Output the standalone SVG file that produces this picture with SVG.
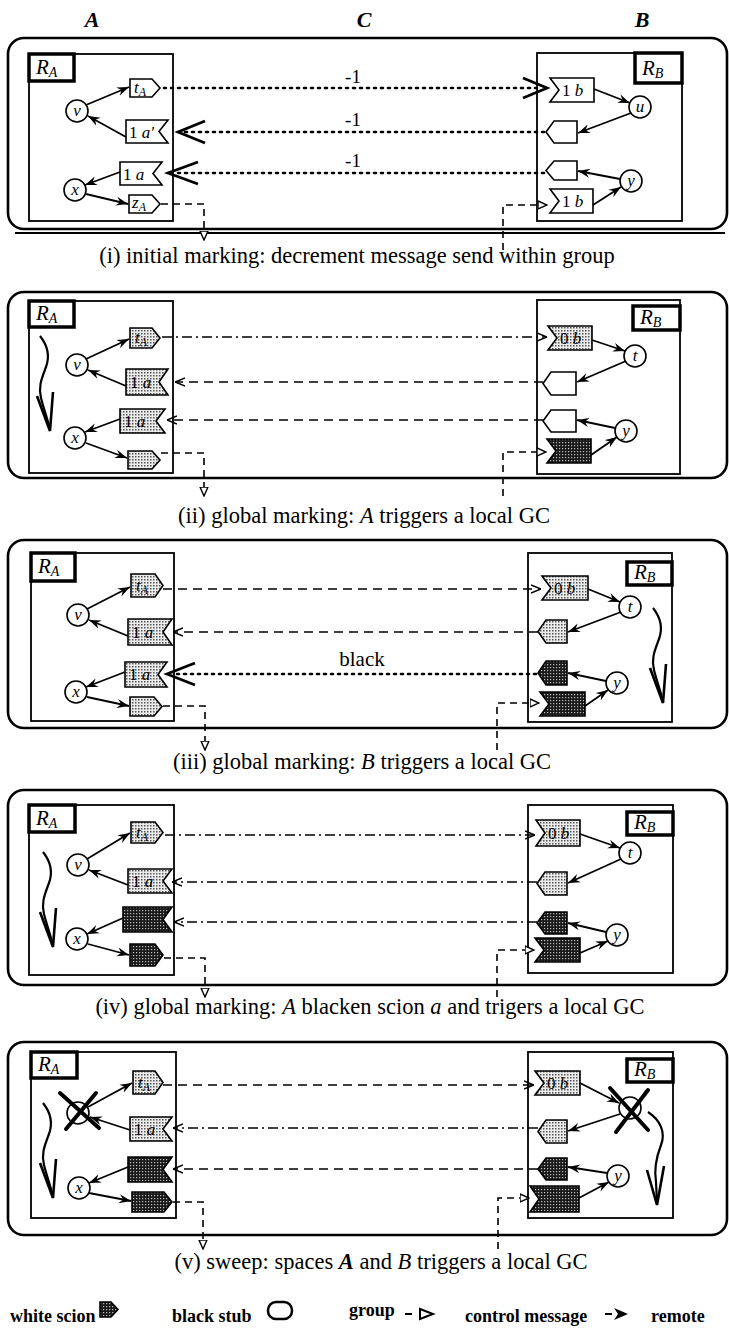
<svg xmlns="http://www.w3.org/2000/svg" width="729" height="1331" viewBox="0 0 729 1331">
<style>
.grp{fill:none;stroke:#000;stroke-width:2.6}
.box{fill:none;stroke:#000;stroke-width:1.8}
.lbl{fill:#fff;stroke:#000;stroke-width:3.5}
.nd{stroke:#000;stroke-width:1.6}
.w{fill:#fff}.l{fill:url(#lt)}.d{fill:url(#dk)}
.ref{stroke:#000;stroke-width:1.8;fill:none;marker-end:url(#ah)}
.row{stroke:#000;fill:none;stroke-width:1.6}
.dot{stroke-dasharray:2 5;stroke-width:2.6;stroke-linecap:round}
.dash{stroke-dasharray:9 6}
.dd{stroke-dasharray:10 4 2 4}
.sa{marker-end:url(#sa)}
.chev{fill:none;stroke:#000;stroke-width:2.8}
.ctl{fill:none;stroke:#000;stroke-width:1.6;stroke-dasharray:7 5;marker-end:url(#ca)}
.xx{stroke:#000;stroke-width:4;stroke-linecap:round}
text{font-family:"Liberation Serif",serif;fill:#000}
.nt{font-size:17px;font-style:italic}
.nt tspan.s{font-size:12px}
.ct{font-size:17px;font-style:italic;text-anchor:middle}
.rl{font-size:21px;font-style:italic}
.rl tspan{font-size:14px}
.cap{font-size:22.5px;text-anchor:middle}
.hd{font-size:22px;font-weight:bold;font-style:italic;text-anchor:middle}
.m1{font-size:19px;text-anchor:middle}
.lg{font-size:18px;font-weight:bold}
</style>
<defs>
<pattern id="lt" width="3" height="3" patternUnits="userSpaceOnUse"><rect width="3" height="3" fill="#ececec"/><rect width="1.5" height="1.5" fill="#555"/></pattern>
<pattern id="dk" width="3" height="3" patternUnits="userSpaceOnUse"><rect width="3" height="3" fill="#1a1a1a"/><rect x="1" y="1" width="1.2" height="1.2" fill="#bbb"/></pattern>
<marker id="ah" viewBox="0 0 12 10" refX="12" refY="5" markerWidth="12" markerHeight="10" markerUnits="userSpaceOnUse" orient="auto"><path d="M0,0.5 L12,5 L0,9.5 L4,5 z" fill="#000"/></marker>
<marker id="sa" viewBox="0 0 10 10" refX="10" refY="5" markerWidth="10" markerHeight="10" markerUnits="userSpaceOnUse" orient="auto"><path d="M0,1 L10,5 L0,9" fill="none" stroke="#000" stroke-width="1.5"/></marker>
<marker id="ca" viewBox="0 0 10 10" refX="9" refY="5" markerWidth="10" markerHeight="10" markerUnits="userSpaceOnUse" orient="auto"><path d="M0,1 L9,5 L0,9 z" fill="#fff" stroke="#000" stroke-width="1.4"/></marker>
<g id="sq"><path d="M0,0 C8,10 10,20 6,31 C2,42 -2,50 1,62 C4,74 8,84 10,94" fill="none" stroke="#000" stroke-width="2.2"/><path d="M-3,60 L10,95 L13,56" fill="none" stroke="#000" stroke-width="2.6"/></g>
</defs>

<g id="header">
<text class="hd" x="92" y="27">A</text>
<text class="hd" x="364" y="27">C</text>
<text class="hd" x="642" y="27">B</text>
</g>

<!-- Panel i -->
<g id="panel-i">
<rect class="grp" x="8" y="38" width="719" height="191" rx="16"/>
<line x1="15" y1="233" x2="725" y2="233" stroke="#000" stroke-width="2.2"/>
<g id="i-RA"><rect class="box" x="29" y="54" width="144" height="167"/><rect class="lbl" x="29" y="54" width="45" height="27"/><text class="rl" x="36" y="74">R<tspan dy="3">A</tspan></text></g>
<g id="i-v"><circle class="nd w" cx="77" cy="111" r="11"/><text class="ct" x="77" y="116">v</text></g>
<g id="i-x"><circle class="nd w" cx="75" cy="190" r="11"/><text class="ct" x="75" y="195">x</text></g>
<g id="i-tA"><polygon class="nd w" points="130,79 152,79 160,88 152,97 130,97"/><text class="nt" x="134" y="93">t<tspan class="s" dy="3">A</tspan></text></g>
<g id="i-a1"><polygon class="nd w" points="126,120 168,120 159,131.5 168,143 126,143"/><text class="nt" x="129" y="138"><tspan font-style="normal">1</tspan> a'</text></g>
<g id="i-a2"><polygon class="nd w" points="120,162 162,162 153,173.5 162,185 120,185"/><text class="nt" x="123" y="180"><tspan font-style="normal">1</tspan> a</text></g>
<g id="i-zA"><polygon class="nd w" points="129,195 152,195 160,204 152,213 129,213"/><text class="nt" x="132" y="208">z<tspan class="s" dy="3">A</tspan></text></g>
<g id="i-RB"><rect class="box" x="537" y="53" width="145" height="168"/><rect class="lbl" x="635" y="53" width="47" height="30"/><text class="rl" x="642" y="75">R<tspan dy="3">B</tspan></text></g>
<g id="i-b1"><polygon class="nd w" points="550,78 594,78 594,102 550,102 559,90"/><text class="nt" x="562" y="96"><tspan font-style="normal">1</tspan> b</text></g>
<g id="i-u"><circle class="nd w" cx="640" cy="107" r="11"/><text class="ct" x="640" y="112">u</text></g>
<g id="i-s1"><polygon class="nd w" points="554,121 577,121 577,143 554,143 546,132"/></g>
<g id="i-s2"><polygon class="nd w" points="554,161 577,161 577,180 554,180 546,170.5"/></g>
<g id="i-y"><circle class="nd w" cx="631" cy="181" r="11"/><text class="ct" x="631" y="186">y</text></g>
<g id="i-b2"><polygon class="nd w" points="550,189 593,189 593,213 550,213 559,201"/><text class="nt" x="562" y="207"><tspan font-style="normal">1</tspan> b</text></g>
<g id="i-connectors">
<line class="ref" x1="86" y1="105" x2="129" y2="87"/>
<line class="ref" x1="126" y1="137" x2="88" y2="116"/>
<line class="ref" x1="120" y1="172" x2="85" y2="185"/>
<line class="ref" x1="86" y1="194" x2="128" y2="204"/>
<line class="ref" x1="594" y1="89" x2="630" y2="103"/>
<line class="ref" x1="631" y1="113" x2="578" y2="133"/>
<line class="ref" x1="620" y1="179" x2="578" y2="171"/>
<line class="ref" x1="593" y1="205" x2="621" y2="187"/>
<line class="row dot" x1="164" y1="88" x2="540" y2="88"/>
<path class="chev" d="M523,78 L547,88 L523,98"/>
<line class="row dot" x1="544" y1="132" x2="182" y2="132"/>
<path class="chev" d="M205,121 L178,132 L205,143"/>
<line class="row dot" x1="544" y1="173" x2="174" y2="173"/>
<path class="chev" d="M198,162 L168,173 L198,184"/>
<text class="m1" x="353" y="83">-1</text>
<text class="m1" x="353" y="126">-1</text>
<text class="m1" x="353" y="167">-1</text>
<polyline class="ctl" points="161,204 204,204 204,240"/>
<polyline class="ctl" points="503,250 503,205 547,205"/>
</g>
</g>
<text class="cap" x="357" y="263">(i) initial marking: decrement message send within group</text>

<!-- Panel ii -->
<g id="panel-ii">
<rect class="grp" x="8" y="292" width="719" height="186" rx="16"/>
<g id="ii-RA"><rect class="box" x="29" y="301" width="144" height="172"/><rect class="lbl" x="29" y="301" width="45" height="26"/><text class="rl" x="36" y="320">R<tspan dy="3">A</tspan></text><use href="#sq" x="40" y="336"/></g>
<g id="ii-v"><circle class="nd w" cx="77" cy="365" r="11"/><text class="ct" x="77" y="370">v</text></g>
<g id="ii-x"><circle class="nd w" cx="75" cy="438" r="11"/><text class="ct" x="75" y="443">x</text></g>
<g id="ii-tA"><polygon class="nd l" points="130,328 152,328 160,338 152,348 130,348"/><text class="nt" x="135" y="343">t<tspan class="s" dy="3">A</tspan></text></g>
<g id="ii-a1"><polygon class="nd l" points="126,369 168,369 159,382 168,395 126,395"/><text class="nt" x="130" y="388"><tspan font-style="normal">1</tspan> a</text></g>
<g id="ii-a2"><polygon class="nd l" points="120,409 165,409 156,421 165,433 120,433"/><text class="nt" x="124" y="427"><tspan font-style="normal">1</tspan> a</text></g>
<g id="ii-st"><polygon class="nd l" points="128,451 152,451 160,460 152,469 128,469"/></g>
<g id="ii-RB"><rect class="box" x="537" y="300" width="143" height="174"/><rect class="lbl" x="633" y="306" width="47" height="24"/><text class="rl" x="640" y="324">R<tspan dy="3">B</tspan></text></g>
<g id="ii-b1"><polygon class="nd l" points="548,326 592,326 592,350 548,350 557,338"/><text class="nt" x="560" y="344"><tspan font-style="normal">0</tspan> b</text></g>
<g id="ii-t"><circle class="nd w" cx="635" cy="356" r="11"/><text class="ct" x="635" y="361">t</text></g>
<g id="ii-s1"><polygon class="nd w" points="551,372 576,372 576,395 551,395 543,383.5"/></g>
<g id="ii-s2"><polygon class="nd w" points="551,410 576,410 576,432 551,432 543,421"/></g>
<g id="ii-y"><circle class="nd w" cx="626" cy="431" r="11"/><text class="ct" x="626" y="436">y</text></g>
<g id="ii-b2"><polygon class="nd d" points="547,439 591,439 591,463 547,463 556,451"/></g>
<g id="ii-connectors">
<line class="ref" x1="86" y1="359" x2="129" y2="339"/>
<line class="ref" x1="126" y1="386" x2="88" y2="370"/>
<line class="ref" x1="120" y1="419" x2="85" y2="432"/>
<line class="ref" x1="86" y1="443" x2="127" y2="458"/>
<line class="ref" x1="592" y1="340" x2="625" y2="351"/>
<line class="ref" x1="626" y1="361" x2="577" y2="382"/>
<line class="ref" x1="615" y1="428" x2="577" y2="420"/>
<line class="ref" x1="591" y1="455" x2="617" y2="437"/>
<line class="row dd sa" x1="162" y1="337" x2="547" y2="337"/>
<line class="row dash sa" x1="543" y1="382" x2="175" y2="382"/>
<line class="row dash sa" x1="543" y1="420" x2="167" y2="420"/>
<polyline class="ctl" points="161,453 204,453 204,496"/>
<polyline class="ctl" points="503,496 503,452 546,452"/>
</g>
</g>
<text class="cap" x="364" y="523">(ii) global marking: <tspan font-style="italic">A</tspan> triggers a local GC</text>

<!-- Panel iii -->
<g id="panel-iii">
<rect class="grp" x="8" y="540" width="719" height="188" rx="16"/>
<g id="iii-RA"><rect class="box" x="31" y="553" width="143" height="168"/><rect class="lbl" x="31" y="553" width="44" height="28"/><text class="rl" x="38" y="573">R<tspan dy="3">A</tspan></text></g>
<g id="iii-v"><circle class="nd w" cx="78" cy="615" r="11"/><text class="ct" x="78" y="620">v</text></g>
<g id="iii-x"><circle class="nd w" cx="76" cy="692" r="11"/><text class="ct" x="76" y="697">x</text></g>
<g id="iii-tA"><polygon class="nd l" points="131,574 155,574 163,585.5 155,597 131,597"/><text class="nt" x="136" y="591">t<tspan class="s" dy="3">A</tspan></text></g>
<g id="iii-a1"><polygon class="nd l" points="128,619 172,619 163,632 172,645 128,645"/><text class="nt" x="132" y="638"><tspan font-style="normal">1</tspan> a</text></g>
<g id="iii-a2"><polygon class="nd l" points="125,662 167,662 158,674.5 167,687 125,687"/><text class="nt" x="129" y="680"><tspan font-style="normal">1</tspan> a</text></g>
<g id="iii-st"><polygon class="nd l" points="130,697 154,697 162,706.5 154,716 130,716"/></g>
<g id="iii-RB"><rect class="box" x="528" y="553" width="144" height="169"/><rect class="lbl" x="627" y="562" width="45" height="23"/><text class="rl" x="634" y="579">R<tspan dy="3">B</tspan></text><use href="#sq" x="653" y="608"/></g>
<g id="iii-b1"><polygon class="nd l" points="542,576 588,576 588,600 542,600 551,588"/><text class="nt" x="554" y="594"><tspan font-style="normal">0</tspan> b</text></g>
<g id="iii-t"><circle class="nd w" cx="630" cy="607" r="11"/><text class="ct" x="630" y="612">t</text></g>
<g id="iii-s1"><polygon class="nd l" points="546,620 567,620 567,643 546,643 538,631.5"/></g>
<g id="iii-s2"><polygon class="nd d" points="546,661 567,661 567,685 546,685 538,673"/></g>
<g id="iii-y"><circle class="nd w" cx="617" cy="683" r="11"/><text class="ct" x="617" y="688">y</text></g>
<g id="iii-b2"><polygon class="nd d" points="540,692 585,692 585,716 540,716 549,704"/></g>
<g id="iii-connectors">
<line class="ref" x1="87" y1="609" x2="130" y2="587"/>
<line class="ref" x1="128" y1="636" x2="89" y2="620"/>
<line class="ref" x1="125" y1="672" x2="86" y2="687"/>
<line class="ref" x1="87" y1="697" x2="129" y2="706"/>
<line class="ref" x1="588" y1="589" x2="620" y2="602"/>
<line class="ref" x1="621" y1="612" x2="568" y2="632"/>
<line class="ref" x1="606" y1="681" x2="568" y2="673"/>
<line class="ref" x1="585" y1="706" x2="608" y2="690"/>
<line class="row dash sa" x1="163" y1="589" x2="541" y2="589"/>
<line class="row dash sa" x1="538" y1="632" x2="173" y2="632"/>
<line class="row dot" x1="536" y1="674" x2="174" y2="674"/>
<path class="chev" d="M195,663 L167,674 L195,685"/>
<text x="362" y="666" font-family="Liberation Sans, sans-serif" font-size="21" text-anchor="middle">black</text>
<polyline class="ctl" points="163,706 205,706 205,750"/>
<polyline class="ctl" points="497,750 497,703 539,703"/>
</g>
</g>
<text class="cap" x="362" y="769">(iii) global marking: <tspan font-style="italic">B</tspan> triggers a local GC</text>

<!-- Panel iv -->
<g id="panel-iv">
<rect class="grp" x="8" y="790" width="719" height="195" rx="16"/>
<g id="iv-RA"><rect class="box" x="29" y="805" width="145" height="170"/><rect class="lbl" x="29" y="805" width="46" height="27"/><text class="rl" x="36" y="825">R<tspan dy="3">A</tspan></text><use href="#sq" x="43" y="852"/></g>
<g id="iv-v"><circle class="nd w" cx="78" cy="865" r="11"/><text class="ct" x="78" y="870">v</text></g>
<g id="iv-x"><circle class="nd w" cx="77" cy="939" r="11"/><text class="ct" x="77" y="944">x</text></g>
<g id="iv-tA"><polygon class="nd l" points="131,822 155,822 163,832.5 155,843 131,843"/><text class="nt" x="136" y="838">t<tspan class="s" dy="3">A</tspan></text></g>
<g id="iv-a1"><polygon class="nd l" points="128,869 172,869 163,881 172,893 128,893"/><text class="nt" x="132" y="887"><tspan font-style="normal">1</tspan> a</text></g>
<g id="iv-a2"><polygon class="nd d" points="123,907 172,907 163,919.5 172,932 123,932"/></g>
<g id="iv-st"><polygon class="nd d" points="130,944 155,944 163,955 155,966 130,966"/></g>
<g id="iv-RB"><rect class="box" x="528" y="805" width="145" height="168"/><rect class="lbl" x="627" y="812" width="46" height="23"/><text class="rl" x="634" y="829">R<tspan dy="3">B</tspan></text></g>
<g id="iv-b1"><polygon class="nd l" points="536,820 580,820 580,846 536,846 545,833"/><text class="nt" x="548" y="839"><tspan font-style="normal">0</tspan> b</text></g>
<g id="iv-t"><circle class="nd w" cx="630" cy="853" r="11"/><text class="ct" x="630" y="858">t</text></g>
<g id="iv-s1"><polygon class="nd l" points="545,872 567,872 567,895 545,895 537,883.5"/></g>
<g id="iv-s2"><polygon class="nd d" points="545,912 567,912 567,934 545,934 537,923"/></g>
<g id="iv-y"><circle class="nd w" cx="617" cy="935" r="11"/><text class="ct" x="617" y="940">y</text></g>
<g id="iv-b2"><polygon class="nd d" points="535,938 580,938 580,962 535,962 544,950"/></g>
<g id="iv-connectors">
<line class="ref" x1="87" y1="859" x2="130" y2="833"/>
<line class="ref" x1="128" y1="885" x2="89" y2="870"/>
<line class="ref" x1="123" y1="918" x2="87" y2="934"/>
<line class="ref" x1="88" y1="944" x2="129" y2="955"/>
<line class="ref" x1="580" y1="834" x2="620" y2="848"/>
<line class="ref" x1="621" y1="859" x2="568" y2="883"/>
<line class="ref" x1="606" y1="932" x2="568" y2="923"/>
<line class="ref" x1="580" y1="953" x2="608" y2="941"/>
<line class="row dd sa" x1="165" y1="835" x2="535" y2="835"/>
<line class="row dd sa" x1="537" y1="882" x2="172" y2="882"/>
<line class="row dd sa" x1="537" y1="922" x2="174" y2="922"/>
<polyline class="ctl" points="164,958 205,958 205,997"/>
<polyline class="ctl" points="497,997 497,950 534,950"/>
</g>
</g>
<text class="cap" x="370" y="1014">(iv) global marking: <tspan font-style="italic">A</tspan> blacken scion <tspan font-style="italic">a</tspan> and trigers a local GC</text>

<!-- Panel v -->
<g id="panel-v">
<rect class="grp" x="8" y="1042" width="719" height="193" rx="16"/>
<g id="v-RA"><rect class="box" x="31" y="1052" width="145" height="166"/><rect class="lbl" x="31" y="1052" width="46" height="26"/><text class="rl" x="38" y="1071">R<tspan dy="3">A</tspan></text><use href="#sq" x="43" y="1103"/></g>
<g id="v-v"><circle class="nd w" cx="78" cy="1113" r="11"/><line class="xx" x1="60" y1="1093" x2="99" y2="1128"/><line class="xx" x1="96" y1="1093" x2="66" y2="1129"/></g>
<g id="v-x"><circle class="nd w" cx="79" cy="1188" r="11"/><text class="ct" x="79" y="1193">x</text></g>
<g id="v-tA"><polygon class="nd l" points="133,1071 155,1071 163,1082.5 155,1094 133,1094"/><text class="nt" x="138" y="1088">t<tspan class="s" dy="3">A</tspan></text></g>
<g id="v-a1"><polygon class="nd l" points="130,1117 172,1117 163,1129 172,1141 130,1141"/><text class="nt" x="134" y="1135"><tspan font-style="normal">1</tspan> a</text></g>
<g id="v-a2"><polygon class="nd d" points="128,1157 172,1157 163,1169.5 172,1182 128,1182"/></g>
<g id="v-st"><polygon class="nd d" points="132,1192 164,1192 172,1202 164,1212 132,1212"/></g>
<g id="v-RB"><rect class="box" x="528" y="1052" width="145" height="166"/><rect class="lbl" x="627" y="1059" width="46" height="23"/><text class="rl" x="634" y="1076">R<tspan dy="3">B</tspan></text>
<path d="M648,1112 C660,1120 666,1132 661,1145 C656,1158 654,1170 656,1182 L657,1203" fill="none" stroke="#000" stroke-width="2.2"/><path d="M647,1170 L657,1205 L664,1166" fill="none" stroke="#000" stroke-width="2.6"/></g>
<g id="v-b1"><polygon class="nd l" points="535,1071 580,1071 580,1095 535,1095 544,1083"/><text class="nt" x="547" y="1089"><tspan font-style="normal">0</tspan> b</text></g>
<g id="v-t"><circle class="nd w" cx="630" cy="1108" r="11"/><line class="xx" x1="610" y1="1088" x2="648" y2="1130"/><line class="xx" x1="648" y1="1090" x2="616" y2="1132"/></g>
<g id="v-s1"><polygon class="nd l" points="546,1120 567,1120 567,1143 546,1143 538,1131.5"/></g>
<g id="v-s2"><polygon class="nd d" points="546,1158 567,1158 567,1180 546,1180 538,1169"/></g>
<g id="v-y"><circle class="nd w" cx="618" cy="1176" r="11"/><text class="ct" x="618" y="1181">y</text></g>
<g id="v-b2"><polygon class="nd d" points="530,1186 579,1186 579,1212 530,1212 539,1199"/></g>
<g id="v-connectors">
<line class="ref" x1="88" y1="1107" x2="132" y2="1083"/>
<line class="ref" x1="130" y1="1130" x2="90" y2="1117"/>
<line class="ref" x1="128" y1="1167" x2="89" y2="1183"/>
<line class="ref" x1="89" y1="1193" x2="131" y2="1201"/>
<line class="ref" x1="580" y1="1083" x2="619" y2="1103"/>
<line class="ref" x1="620" y1="1114" x2="568" y2="1131"/>
<line class="ref" x1="607" y1="1173" x2="568" y2="1167"/>
<line class="ref" x1="579" y1="1198" x2="609" y2="1182"/>
<line class="row dash sa" x1="163" y1="1085" x2="534" y2="1085"/>
<line class="row dd sa" x1="538" y1="1128" x2="173" y2="1128"/>
<line class="row dash sa" x1="538" y1="1169" x2="173" y2="1169"/>
<polyline class="ctl" points="173,1202 203,1202 203,1249"/>
<polyline class="ctl" points="498,1249 498,1198 529,1198"/>
</g>
</g>
<text class="cap" x="381" y="1269">(v) sweep: spaces <tspan font-style="italic" font-weight="bold">A</tspan> and <tspan font-style="italic">B</tspan> triggers a local GC</text>

<!-- Legend -->
<g id="legend">
<text class="lg" x="10" y="1322">white scion</text>
<polygon class="nd d" points="100,1302 111,1302 118,1309.5 111,1317 100,1317"/>
<text class="lg" x="172" y="1322">black stub</text>
<rect x="268" y="1302" width="24" height="17" rx="8" fill="none" stroke="#000" stroke-width="2.5"/>
<text class="lg" x="349" y="1316">group</text>
<line x1="405" y1="1314" x2="412" y2="1314" stroke="#000" stroke-width="2"/>
<path d="M420,1309 L433,1314 L420,1319 z" fill="#fff" stroke="#000" stroke-width="2"/>
<text class="lg" x="465" y="1322">control message</text>
<line x1="605" y1="1314" x2="612" y2="1314" stroke="#000" stroke-width="2"/>
<path d="M614,1308 L628,1314 L614,1320 L618,1314 z" fill="#000"/>
<text class="lg" x="651" y="1322">remote</text>
</g>
</svg>
